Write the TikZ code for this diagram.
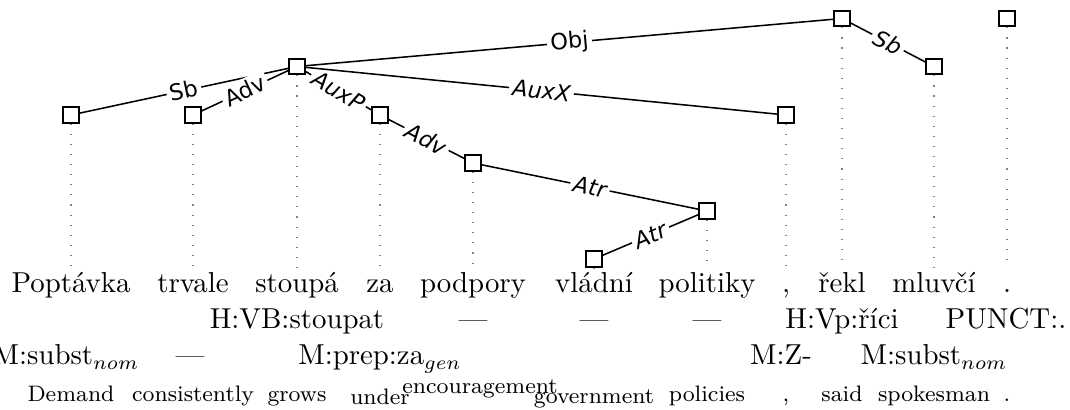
\documentclass[tikz,border=0pt]{standalone}
\usepackage{fontspec}
\newfontfamily\labfont{DejaVu Sans}
\begin{document}
\begin{tikzpicture}[x=0.35714pt,y=-0.35714pt,
  tok/.style={draw,line width=0.7pt,minimum size=5.6pt,inner sep=0pt,fill=white},
  dep/.style={line width=0.55pt},
  lab/.style={fill=white,inner sep=1.2pt,sloped,font=\labfont\fontsize{8}{9}\selectfont},
  labi/.style={lab,font=\labfont\itshape\fontsize{8}{9}\selectfont},
  guide/.style={gray,line width=0.5pt,dash pattern=on 0.4pt off 3.2pt},
  word/.style={anchor=base,inner sep=0pt,font=\fontsize{10.3}{12}\selectfont},
  gloss/.style={anchor=base,inner sep=0pt,font=\footnotesize},
]
\useasboundingbox (0,0) rectangle (1070,410);

% tree nodes, one per token
\node[tok] (n1)  at (71,115)   {};
\node[tok] (n2)  at (193,115)  {};
\node[tok] (n3)  at (297,66.5) {};
\node[tok] (n4)  at (380,115)  {};
\node[tok] (n5)  at (473,163)  {};
\node[tok] (n6)  at (594,259)  {};
\node[tok] (n7)  at (707,211)  {};
\node[tok] (n8)  at (786,115)  {};
\node[tok] (n9)  at (842,18.5) {};
\node[tok] (n10) at (934,66.5) {};
\node[tok] (n11) at (1007,18.5){};

% projection guides down to the sentence
\foreach \i/\x in {1/71,2/193,3/297,4/380,5/473,6/594,7/707,8/786,9/842,10/934,11/1007}{
  \coordinate (g\i) at (\x,268);
  \draw[guide] (n\i.south) -- (g\i);
}

% dependency edges
\draw[dep] (n3) -- node[lab]{Sb} (n1);
\draw[dep] (n3) -- node[lab]{Adv} (n2);
\draw[dep] (n3) -- node[labi]{AuxP} (n4);
\draw[dep] (n3) -- node[labi]{AuxX} (n8);
\draw[dep] (n9) -- node[lab]{Obj} (n3);
\draw[dep] (n9) -- node[labi]{Sb} (n10);
\draw[dep] (n4) -- node[labi]{Adv} (n5);
\draw[dep] (n5) -- node[labi]{Atr} (n7);
\draw[dep] (n7) -- node[labi]{Atr} (n6);

% sentence
\node[word] (w1)  at (71,293)   {Poptávka};
\node[word] (w2)  at (193,293)  {trvale};
\node[word] (w3)  at (297,293)  {stoupá};
\node[word] (w4)  at (380,293)  {za};
\node[word] (w5)  at (473,293)  {podpory};
\node[word] (w6)  at (594,293)  {vládní};
\node[word] (w7)  at (707,293)  {politiky};
\node[word] (w8)  at (786,293)  {,};
\node[word] (w9)  at (842,293)  {řekl};
\node[word] (w10) at (934,293)  {mluvčí};
\node[word] (w11) at (1007,293) {.};

% head annotations
\node[word] (h3)  at (297,329)  {H:VB:stoupat};
\node[word] (h5)  at (473,329)  {---};
\node[word] (h6)  at (594,329)  {---};
\node[word] (h7)  at (707,329)  {---};
\node[word] (h9)  at (842,329)  {H:Vp:říci};
\node[word] (h11) at (1006,329) {PUNCT:.};

% morphology annotations
\node[word] (m1)  at (66,365)   {M:subst$_{nom}$};
\node[word] (m2)  at (190,365)  {---};
\node[word] (m4)  at (380,365)  {M:prep:za$_{gen}$};
\node[word] (m8)  at (781,365)  {M:Z-};
\node[word] (m10) at (934,365)  {M:subst$_{nom}$};

% English gloss
\node[gloss] (e1)  at (71,402)   {Demand};
\node[gloss] (e2)  at (193,402)  {consistently};
\node[gloss] (e3)  at (297,402)  {grows};
\node[gloss] (e4)  at (380,405)  {under};
\node[gloss] (e5)  at (480,394)  {encouragement};
\node[gloss] (e6)  at (594,404)  {government};
\node[gloss] (e7)  at (707,402)  {policies};
\node[gloss] (e8)  at (786,402)  {,};
\node[gloss] (e9)  at (842,402)  {said};
\node[gloss] (e10) at (934,402)  {spokesman};
\node[gloss] (e11) at (1007,402) {.};
\end{tikzpicture}
\end{document}
